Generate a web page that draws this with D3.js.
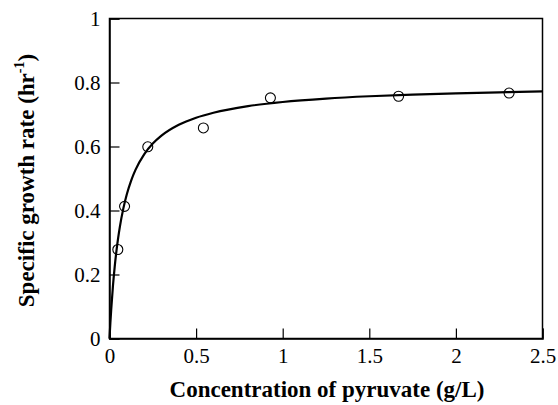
<!DOCTYPE html>
<html>
<head>
<meta charset="utf-8">
<script src="https://cdn.jsdelivr.net/npm/d3@7"></script>
<style>
  html, body { margin: 0; padding: 0; background: #fff; }
  svg { display: block; }
  svg text { font-family: "Liberation Serif", Tinos, "Times New Roman", Times, "DejaVu Serif", serif; fill: #000; }
</style>
</head>
<body>
<svg id="chart" width="558" height="405"></svg>
<script>
// Measured growth rates at each pyruvate concentration
const concentration = [0.048, 0.087, 0.221, 0.542, 0.929, 1.669, 2.307];
const growthRate    = [0.278, 0.413, 0.599, 0.658, 0.752, 0.757, 0.767];

// Fitted Monod curve, tabulated
const fitConcentration = [0, 0.005, 0.01, 0.02, 0.03, 0.04, 0.05, 0.06, 0.08, 0.1, 0.125, 0.15, 0.2, 0.25,
                          0.3, 0.4, 0.5, 0.6, 0.8, 1.0, 1.25, 1.5, 1.75, 2.0, 2.25, 2.5];
const fitRate          = [0, 0.0488, 0.0920, 0.1649, 0.2241, 0.2732, 0.3145, 0.3497, 0.4067, 0.4508, 0.4936,
                          0.5269, 0.5755, 0.6092, 0.6339, 0.6679, 0.6900, 0.7056, 0.7262, 0.7391, 0.7497,
                          0.7570, 0.7623, 0.7663, 0.7694, 0.7720];

const xTicks = [0, 0.5, 1, 1.5, 2, 2.5];
const yTicks = [0, 0.2, 0.4, 0.6, 0.8, 1];

const svg = d3.select("#chart");
const plotLeft = 109.5, plotRight = 542.5, plotTop = 18.5, plotBottom = 338.5;

const x = d3.scaleLinear().domain([0, 2.5]).range([plotLeft, plotRight]);
const y = d3.scaleLinear().domain([0, 1]).range([plotBottom, plotTop]);

// Frame around the plot area
svg.append("rect")
  .attr("x", plotLeft).attr("y", plotTop)
  .attr("width", plotRight - plotLeft).attr("height", plotBottom - plotTop)
  .attr("fill", "none").attr("stroke", "#000").attr("stroke-width", 1.5);

// Axes with inward ticks
const xAxis = d3.axisBottom(x).tickValues(xTicks).tickSize(-10).tickPadding(19)
  .tickFormat(d => d3.format("")(d));
const yAxis = d3.axisLeft(y).tickValues(yTicks).tickSize(-10).tickPadding(9)
  .tickFormat(d => d3.format("")(d));

const gx = svg.append("g").attr("transform", `translate(0,${plotBottom})`).call(xAxis);
const gy = svg.append("g").attr("transform", `translate(${plotLeft},0)`).call(yAxis);

[gx, gy].forEach(g => {
  g.attr("font-family", null).attr("font-size", null);
  g.select(".domain").attr("stroke", "#000").attr("stroke-width", 1.5);
  g.selectAll(".tick line").attr("stroke", "#000").attr("stroke-width", 1.2);
  g.selectAll(".tick text").attr("font-size", 21).attr("fill", "#000");
});
gx.selectAll(".tick text").attr("dy", "0").attr("y", 24.5);

// Fitted curve
const line = d3.line()
  .x((d, i) => x(fitConcentration[i]))
  .y((d, i) => y(fitRate[i]))
  .curve(d3.curveMonotoneX);

svg.append("path")
  .datum(fitRate)
  .attr("d", line)
  .attr("fill", "none")
  .attr("stroke", "#000")
  .attr("stroke-width", 2.2);

// Data points
svg.append("g").selectAll("circle")
  .data(concentration)
  .join("circle")
  .attr("cx", d => x(d))
  .attr("cy", (d, i) => y(growthRate[i]))
  .attr("r", 5)
  .attr("fill", "none")
  .attr("stroke", "#000")
  .attr("stroke-width", 1.1);

// Axis titles
svg.append("text")
  .attr("x", (plotLeft + plotRight) / 2 + 1)
  .attr("y", 397)
  .attr("text-anchor", "middle")
  .attr("font-size", 23)
  .attr("font-weight", "bold")
  .text("Concentration of pyruvate (g/L)");

const yTitle = svg.append("text")
  .attr("transform", `translate(34,${(plotTop + plotBottom) / 2 + 2}) rotate(-90)`)
  .attr("text-anchor", "middle")
  .attr("font-size", 23)
  .attr("font-weight", "bold");
yTitle.append("tspan").text("Specific growth rate (hr");
yTitle.append("tspan").attr("font-size", 14).attr("dy", -10).text("-1");
yTitle.append("tspan").attr("dy", 10).text(")");
</script>
</body>
</html>
